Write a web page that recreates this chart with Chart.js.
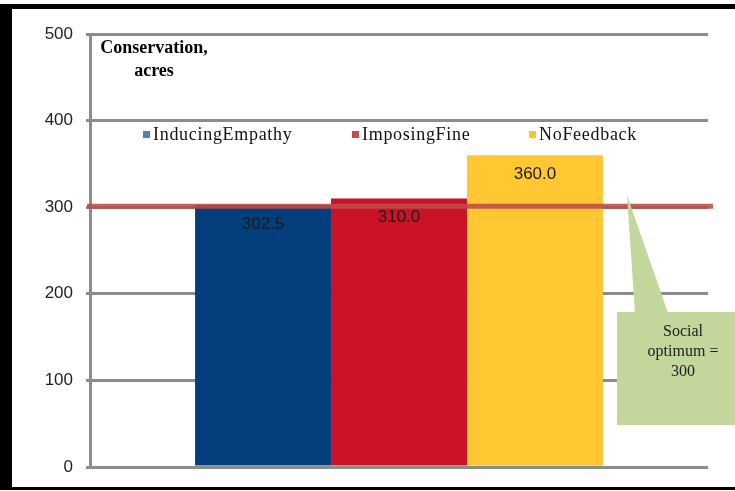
<!DOCTYPE html>
<html>
<head>
<meta charset="utf-8">
<script src="https://cdn.jsdelivr.net/npm/chart.js@4.4.1/dist/chart.umd.min.js"></script>
<style>
html,body{margin:0;padding:0;background:#fff;}
#wrap{position:absolute;left:0;top:0;width:735px;height:491px;}
</style>
</head>
<body>
<div id="wrap"><canvas id="c" width="735" height="491"></canvas></div>
<script>
// ---- data ----
const categories = [''];
const seriesNames = ['InducingEmpathy', 'ImposingFine', 'NoFeedback'];
const seriesValues = [[302.5], [310.0], [360.0]];
const barColors = ['#023F7C', '#CC1226', '#FFC832'];
const legendColors = ['#4F81BD', '#C0504D', '#F7C431'];
const socialOptimum = [300];
const yTicks = [0, 100, 200, 300, 400, 500];
const axisTitle = ['Conservation,', 'acres'];
const calloutLines = ['Social', 'optimum =', '300'];

const sans = '"Liberation Sans", Arial, sans-serif';
const serif = '"Liberation Serif", "Times New Roman", serif';

const decor = {
  id: 'decor',
  beforeDraw(chart) {
    const ctx = chart.ctx;
    ctx.save();
    ctx.fillStyle = '#fff';
    ctx.fillRect(0, 0, chart.width, chart.height);
    ctx.fillStyle = '#000';
    ctx.fillRect(0, 4, chart.width, 5);      // top frame
    ctx.fillRect(0, 4, 12, 486);             // left frame
    ctx.fillRect(0, 487, chart.width, 3);    // bottom frame
    ctx.restore();
  },
  afterDatasetsDraw(chart) {
    const ctx = chart.ctx;
    const ca = chart.chartArea;
    const y = chart.scales.y;
    ctx.save();
    // social optimum line
    const ly = y.getPixelForValue(socialOptimum[0]) - 1;
    ctx.strokeStyle = 'rgba(190,75,72,0.88)';
    ctx.lineWidth = 5;
    ctx.beginPath();
    ctx.moveTo(ca.left - 3, ly);
    ctx.lineTo(ca.right + 5, ly);
    ctx.stroke();

    // value labels
    ctx.fillStyle = '#1a1a1a';
    ctx.font = '17px ' + sans;
    ctx.textAlign = 'center';
    ctx.textBaseline = 'middle';
    chart.data.datasets.forEach((ds, i) => {
      const meta = chart.getDatasetMeta(i);
      meta.data.forEach((bar, j) => {
        ctx.fillText(ds.data[j].toFixed(1), bar.x, bar.y + 19);
      });
    });

    // callout
    ctx.fillStyle = '#C3D69B';
    ctx.beginPath();
    ctx.moveTo(627, ly - 11);
    ctx.lineTo(668, 313);
    ctx.lineTo(635, 313);
    ctx.closePath();
    ctx.fill();
    ctx.fillRect(617, 312, 118, 113);
    ctx.fillStyle = '#222';
    ctx.font = '16px ' + serif;
    calloutLines.forEach((t, k) => ctx.fillText(t, 683, 332 + k * 20));

    // axis title
    ctx.fillStyle = '#000';
    ctx.font = 'bold 18px ' + serif;
    axisTitle.forEach((t, k) => ctx.fillText(t, 154, 48 + k * 23));

    // legend
    const legendX = [143, 352, 529];
    ctx.font = '18px ' + serif;
    ctx.textAlign = 'left';
    if ('letterSpacing' in ctx) ctx.letterSpacing = '0.7px';
    chart.data.datasets.forEach((ds, i) => {
      ctx.fillStyle = legendColors[i];
      ctx.fillRect(legendX[i], 131, 7, 7);
      ctx.fillStyle = '#111';
      ctx.fillText(ds.label, legendX[i] + 10, 135);
    });
    ctx.restore();
  }
};

new Chart(document.getElementById('c'), {
  type: 'bar',
  data: {
    labels: categories,
    datasets: seriesNames.map((n, i) => ({
      label: n,
      data: seriesValues[i],
      backgroundColor: barColors[i],
      borderWidth: 0,
      barPercentage: 1,
      categoryPercentage: 0.66
    }))
  },
  options: {
    responsive: false,
    animation: false,
    devicePixelRatio: 1,
    layout: { padding: { left: 0, top: 34, right: 27, bottom: 24 } },
    plugins: { legend: { display: false }, tooltip: { enabled: false } },
    scales: {
      x: { display: false },
      y: {
        min: 0, max: 500,
        afterFit(scale) { scale.width = 90; },
        afterBuildTicks(scale) { scale.ticks = yTicks.map(v => ({ value: v })); },
        grid: { color: '#8C8C8C', lineWidth: 3, drawTicks: true, tickLength: 4, tickColor: '#8C8C8C' },
        border: { display: true, color: '#8C8C8C', width: 3 },
        ticks: { color: '#222', font: { family: sans, size: 17 }, padding: 13 }
      }
    }
  },
  plugins: [decor]
});
</script>
</body>
</html>
